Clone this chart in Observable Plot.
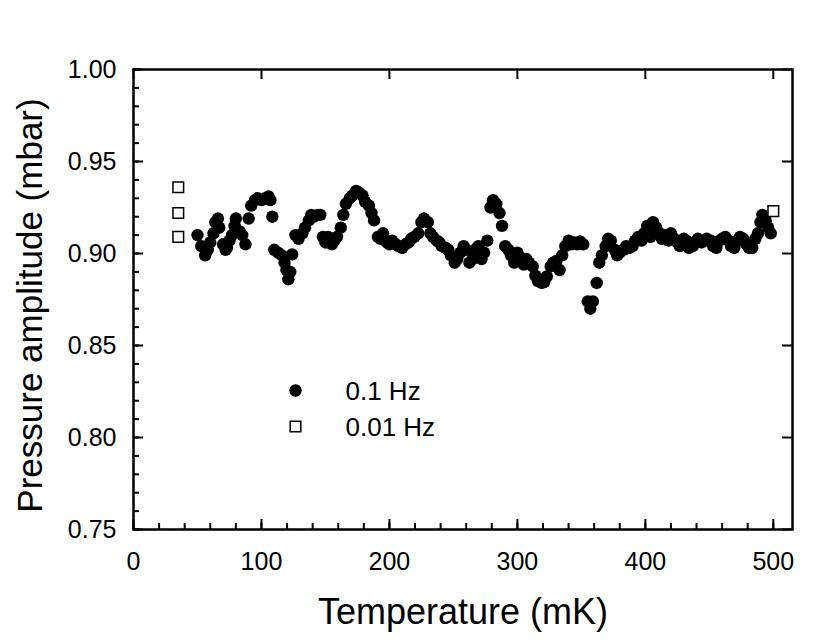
<!DOCTYPE html>
<html>
<head>
<meta charset="utf-8">
<script src="https://cdn.jsdelivr.net/npm/d3@7"></script>
<script src="https://cdn.jsdelivr.net/npm/@observablehq/plot@0.6"></script>
<style>
  html, body { margin: 0; padding: 0; background: #fff; }
  #chart { width: 830px; height: 640px; }
</style>
</head>
<body>
<div id="chart"></div>
<script>
// 0.1 Hz series
const temps = [50,53,56,58,60,62.5,64,66,67,70,72,73,75,77,79,80,83,85,87.5,90,92,95,97,100,103,105.5,107,108.5,110,113,116,118,119.5,121,122.5,124,126.5,129,132,134,137,139,141,144,146,148,150,152,155,157,159,162,164,166,169,171,174,176.5,179,181,184,186,188,191,193,195,198,200,202,205,207,210,212.5,215,217,219.5,222.5,225,227,230,232,234,237,239,241,244,246,248,251,253,255.5,258,260,262.5,265,267,269.5,272,274,276.5,279,281,283.5,286,288,290.5,293,295,297.5,300,302,305,307,309,312,314,316,319,321,323,326,328,330.5,333,335,337.5,340,342,344.5,347,349,351.5,355,357,359,362,364,366,369,371,373,376,378,380,383,385,387.5,390,392,394.5,397,399,401.5,404,406,408.5,411,413,415.5,418,420,422.5,425,427,430,432,434,437,439,441,444,446,448,451,453,455.5,458,460,462.5,465,467,469.5,472,474,476.5,479,481,483.5,486,488,490,491.5,494,496,498];
const amps = [0.910,0.904,0.899,0.902,0.906,0.911,0.917,0.919,0.914,0.905,0.902,0.903,0.907,0.910,0.915,0.919,0.912,0.910,0.905,0.919,0.926,0.929,0.930,0.929,0.930,0.931,0.929,0.920,0.902,0.9005,0.899,0.895,0.891,0.886,0.890,0.8995,0.910,0.908,0.911,0.914,0.918,0.921,0.920,0.921,0.921,0.909,0.906,0.909,0.905,0.907,0.909,0.914,0.921,0.927,0.930,0.9315,0.934,0.933,0.9315,0.928,0.926,0.922,0.918,0.909,0.908,0.911,0.906,0.905,0.907,0.905,0.904,0.903,0.905,0.906,0.908,0.909,0.911,0.917,0.919,0.917,0.911,0.909,0.907,0.906,0.904,0.903,0.902,0.899,0.895,0.897,0.9005,0.904,0.902,0.895,0.897,0.902,0.904,0.897,0.9005,0.907,0.925,0.929,0.927,0.922,0.915,0.904,0.902,0.899,0.895,0.9005,0.898,0.894,0.897,0.895,0.893,0.888,0.885,0.884,0.8845,0.8875,0.893,0.895,0.896,0.891,0.899,0.904,0.907,0.905,0.906,0.905,0.9065,0.905,0.874,0.870,0.874,0.884,0.895,0.899,0.904,0.908,0.907,0.902,0.899,0.9005,0.902,0.904,0.903,0.904,0.907,0.909,0.907,0.911,0.915,0.909,0.917,0.914,0.911,0.908,0.910,0.907,0.911,0.908,0.906,0.904,0.908,0.907,0.903,0.904,0.906,0.908,0.906,0.907,0.908,0.907,0.904,0.903,0.907,0.908,0.909,0.907,0.904,0.903,0.907,0.909,0.908,0.905,0.903,0.903,0.908,0.911,0.917,0.921,0.918,0.914,0.911];

// 0.01 Hz series
const temps01 = [35, 35, 35, 500];
const amps01 = [0.936, 0.922, 0.909, 0.923];

// axis ticks
const xMajor = [0, 100, 200, 300, 400, 500];
const xMinor = d3.range(0, 501, 20);
const yMajor = [0.75, 0.80, 0.85, 0.90, 0.95, 1.00];
const yMinor = d3.range(75, 101, 1).map(d => d / 100);

const legendLabels = ["0.1 Hz", "0.01 Hz"];

const fam = "'Liberation Sans', Arial, Helvetica, sans-serif";
const W = 830, H = 640;
const mL = 133, mR = 38, mT = 69, mB = 111;
const fw = W - mL - mR, fh = H - mT - mB;

const main = temps.map((t, i) => ({t, a: amps[i]}));
const low = temps01.map((t, i) => ({t, a: amps01[i]}));

const chart = Plot.plot({
  width: W, height: H,
  marginLeft: mL, marginRight: mR, marginTop: mT, marginBottom: mB,
  style: {fontFamily: fam, background: "#fff", color: "#000"},
  x: {domain: [0, 515], axis: null},
  y: {domain: [0.75, 1.00], axis: null},
  marks: [
    // tick labels
    Plot.axisX(xMajor, {anchor: "bottom", tickSize: 0, tickPadding: 23, fontSize: 25, label: null, tickFormat: d3.format("d")}),
    Plot.axisY(yMajor, {anchor: "left", tickSize: 0, tickPadding: 17, fontSize: 25, label: null, tickFormat: d3.format(".2f")}),
    // inward ticks: bottom
    Plot.tickX(xMinor, {x: d => d, insetTop: fh - 6, stroke: "#000", strokeWidth: 2}),
    Plot.tickX(xMajor, {x: d => d, insetTop: fh - 10, stroke: "#000", strokeWidth: 2}),
    // top (major only)
    Plot.tickX(xMajor, {x: d => d, insetBottom: fh - 10, stroke: "#000", strokeWidth: 2}),
    // left
    Plot.tickY(yMinor, {y: d => d, insetRight: fw - 6, stroke: "#000", strokeWidth: 2}),
    Plot.tickY(yMajor, {y: d => d, insetRight: fw - 10, stroke: "#000", strokeWidth: 2}),
    // right (major only)
    Plot.tickY(yMajor, {y: d => d, insetLeft: fw - 10, stroke: "#000", strokeWidth: 2}),
    Plot.frame({stroke: "#000", strokeWidth: 2.5}),
    // data
    Plot.dot(main, {x: "t", y: "a", r: 6.2, fill: "#000", stroke: "none"}),
    Plot.dot(low, {x: "t", y: "a", r: 6, symbol: "square", fill: "#fff", stroke: "#000", strokeWidth: 1.5}),
    // legend
    Plot.dot([legendLabels[0]], {frameAnchor: "top-left", dx: 162, dy: 321, r: 6.2, fill: "#000"}),
    Plot.dot([legendLabels[1]], {frameAnchor: "top-left", dx: 162, dy: 357, r: 6, symbol: "square", fill: "#fff", stroke: "#000", strokeWidth: 1.5}),
    Plot.text([legendLabels[0]], {text: d => d, frameAnchor: "top-left", dx: 212, dy: 322, textAnchor: "start", lineAnchor: "middle", fontSize: 26, fill: "#000"}),
    Plot.text([legendLabels[1]], {text: d => d, frameAnchor: "top-left", dx: 212, dy: 358, textAnchor: "start", lineAnchor: "middle", fontSize: 26, fill: "#000"}),
    // axis titles
    Plot.text(["Temperature (mK)"], {text: d => d, frameAnchor: "bottom", dy: 83, textAnchor: "middle", lineAnchor: "middle", fontSize: 36, fill: "#000"}),
    Plot.text(["Pressure amplitude (mbar)"], {text: d => d, frameAnchor: "left", dx: -103, dy: 6, rotate: -90, textAnchor: "middle", lineAnchor: "middle", fontSize: 35, fill: "#000"})
  ]
});
document.getElementById("chart").appendChild(chart);
</script>
</body>
</html>
